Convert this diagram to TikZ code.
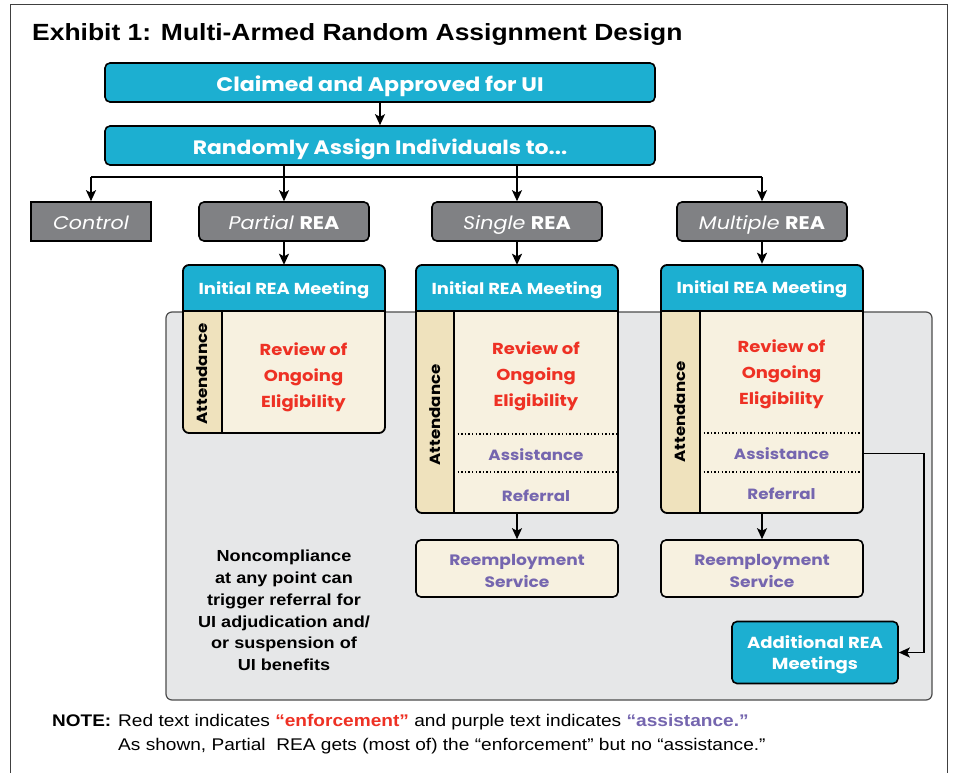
\documentclass[tikz,border=0pt]{standalone}
\usepackage{fontspec}
\setmainfont{Liberation Sans}[FakeStretch=1.13]
\newfontfamily\gf{Poppins}[FakeStretch=1.13]
\usetikzlibrary{arrows.meta}
\definecolor{cyanA}{HTML}{1CAFD1}
\definecolor{grayB}{HTML}{808184}
\definecolor{creamA}{HTML}{F7F1E0}
\definecolor{attnA}{HTML}{EFE2BD}
\definecolor{redA}{HTML}{EE3124}
\definecolor{purpA}{HTML}{7566AF}
\definecolor{panelA}{HTML}{E6E7E8}
\begin{document}
\begin{tikzpicture}[x=1pt,y=-1pt,
  cbox/.style={draw=black, line width=1.6pt, fill=cyanA, rounded corners=5pt, text=white, inner sep=0pt, align=center},
  gbox/.style={draw=black, line width=1.6pt, fill=grayB, text=white, inner sep=0pt, text height=15.8pt, text depth=0pt, font=\gf\fontsize{18.3}{22}\selectfont},
  rbox/.style={draw=black, line width=1.6pt, fill=creamA, rounded corners=5pt, text=purpA, inner sep=0pt, align=center, text height=37.5pt, text depth=0pt, font=\gf\bfseries\fontsize{15.1}{22}\selectfont},
  conn/.style={line width=1.7pt},
  arr/.style={line width=1.7pt, -{Stealth[length=11pt,width=10pt,inset=2.5pt]}},
  hdr/.style={inner sep=0pt, text=white, text height=13.1pt, text depth=0pt, font=\gf\bfseries\fontsize{15.9}{18}\selectfont},
  ghost/.style={inner sep=0pt},
  enf/.style={text=redA, align=center, font=\gf\bfseries\fontsize{15.9}{26}\selectfont},
  asst/.style={text=purpA, inner sep=0pt, font=\gf\bfseries\fontsize{14.8}{18}\selectfont},
  attn/.style={rotate=90, text=black, font=\gf\bfseries\fontsize{14.7}{18}\selectfont},
  dotl/.style={line width=1.4pt, dash pattern=on 1.4pt off 2.2pt},
  outl/.style={draw=black, line width=1.8pt, rounded corners=6pt}
]
\useasboundingbox (0,0) rectangle (954,773);
\fill[white] (0,0) rectangle (954,773);
% outer frame
\draw[line width=1pt, black!75] (10,790) -- (10,5) -- (947,5) -- (947,790);

% title
\node[anchor=base west, inner sep=0pt, font=\bfseries\fontsize{23.4}{28}\selectfont] (title) at (32,40.5) {Exhibit 1: Multi-Armed Random Assignment Design};

% top boxes
\node[cbox, minimum width=550pt, minimum height=39pt, text height=17.7pt, text depth=0pt, font=\gf\bfseries\fontsize{19.6}{22}\selectfont] (claim) at (380,82.5) {Claimed and Approved for UI};
\node[cbox, minimum width=550pt, minimum height=39pt, text height=17.7pt, text depth=0pt, font=\gf\bfseries\fontsize{19.4}{22}\selectfont] (rand) at (380,145.5) {Randomly Assign Individuals to...};
\draw[arr] (claim.south) -- (rand.north);

% arm boxes
\node[gbox, minimum width=120pt, minimum height=39pt] (ctrl) at (91,221.5) {\itshape Control};
\node[gbox, rounded corners=5pt, minimum width=170pt, minimum height=39pt] (pR) at (284,221.5) {\textit{Partial} \textbf{REA}};
\node[gbox, rounded corners=5pt, minimum width=170pt, minimum height=39pt] (sR) at (517,221.5) {\textit{Single} \textbf{REA}};
\node[gbox, rounded corners=5pt, minimum width=170pt, minimum height=39pt] (mR) at (762,221.5) {\textit{Multiple} \textbf{REA}};

\coordinate (br) at (0,177);
\draw[conn] (ctrl.north |- br) -- (mR.north |- br);
\draw[arr] (rand.south -| pR) -- (pR.north);
\draw[arr] (rand.south -| sR) -- (sR.north);
\draw[arr] (ctrl.north |- br) -- (ctrl.north);
\draw[arr] (mR.north |- br) -- (mR.north);

% panel
\draw[fill=panelA, draw=black!70, line width=1.2pt, rounded corners=6pt] (166,312) rectangle (932,700);

% ---------- Partial meeting box ----------
\begin{scope}
\clip[rounded corners=6pt] (183,265) rectangle (385,433);
\fill[creamA] (183,265) rectangle (385,433);
\fill[cyanA] (183,265) rectangle (385,311);
\fill[attnA] (183,311) rectangle (222,433);
\end{scope}
\draw[line width=1.4pt] (183,311) -- (385,311);
\draw[line width=1.2pt] (222,311) -- (222,433);
\draw[outl] (183,265) rectangle (385,433);
\node[ghost, minimum width=202pt, minimum height=168pt] (mP) at (284,349) {};
\node[hdr, minimum width=202pt, minimum height=46pt] (hP) at (284,288) {Initial REA Meeting};
\node[attn] (atP) at (202.5,374) {Attendance};
\node[enf] (rP) at (303.5,377.5) {Review of\\Ongoing\\Eligibility};
\draw[arr] (pR.south) -- (hP.north);

% ---------- Single meeting box ----------
\begin{scope}
\clip[rounded corners=6pt] (416,265) rectangle (618,513);
\fill[creamA] (416,265) rectangle (618,513);
\fill[cyanA] (416,265) rectangle (618,311);
\fill[attnA] (416,311) rectangle (454,513);
\end{scope}
\draw[line width=1.4pt] (416,311) -- (618,311);
\draw[line width=1.2pt] (454,311) -- (454,513);
\draw[dotl] (454,434) -- (618,434);
\draw[dotl] (454,472) -- (618,472);
\draw[outl] (416,265) rectangle (618,513);
\node[ghost, minimum width=202pt, minimum height=248pt] (mS) at (517,389) {};
\node[hdr, minimum width=202pt, minimum height=46pt] (hS) at (517,288) {Initial REA Meeting};
\node[attn] (atS) at (435,415) {Attendance};
\node[enf] (rS) at (536,376) {Review of\\Ongoing\\Eligibility};
\node[asst, minimum width=164pt, minimum height=38pt] (aS) at (536,455) {Assistance};
\node[asst, minimum width=164pt, minimum height=41pt] (fS) at (536,495.5) {Referral};
\draw[arr] (sR.south) -- (hS.north);

% ---------- Multiple meeting box ----------
\begin{scope}
\clip[rounded corners=6pt] (661,265) rectangle (863,513);
\fill[creamA] (661,265) rectangle (863,513);
\fill[cyanA] (661,265) rectangle (863,311);
\fill[attnA] (661,311) rectangle (700,513);
\end{scope}
\draw[line width=1.4pt] (661,311) -- (863,311);
\draw[line width=1.2pt] (700,311) -- (700,513);
\draw[dotl] (700,433) -- (863,433);
\draw[dotl] (700,472) -- (863,472);
\draw[outl] (661,265) rectangle (863,513);
\node[ghost, minimum width=202pt, minimum height=248pt] (mM) at (762,389) {};
\node[hdr, minimum width=202pt, minimum height=46pt] (hM) at (762,287) {Initial REA Meeting};
\node[attn] (atM) at (680.5,412) {Attendance};
\node[enf] (rM) at (781.5,374.5) {Review of\\Ongoing\\Eligibility};
\node[asst, minimum width=163pt, minimum height=39pt] (aM) at (781.5,453.5) {Assistance};
\node[asst, minimum width=163pt, minimum height=41pt] (fM) at (781.5,493.5) {Referral};
\draw[arr] (mR.south) -- (hM.north);

% reemployment
\node[rbox, minimum width=202pt, minimum height=57pt] (sRe) at (517,568.5) {Reemployment\\Service};
\node[rbox, minimum width=202pt, minimum height=57pt] (mRe) at (762,568.5) {Reemployment\\Service};
\draw[arr] (mS.south) -- (sRe.north);
\draw[arr] (mM.south) -- (mRe.north);

% additional
\node[cbox, minimum width=166pt, minimum height=62pt, text height=33.7pt, text depth=0pt, font=\gf\bfseries\fontsize{16}{21}\selectfont] (add) at (815,652.5) {Additional REA\\Meetings};
\coordinate (turn) at (924,0);
\draw[arr] (aM.east) -- (aM.east -| turn) |- (add.east);

% noncompliance
\node[align=center, font=\bfseries\fontsize{16}{21.8}\selectfont] (nc) at (284,610.5) {Noncompliance\\at any point can\\trigger referral for\\UI adjudication and/\\or suspension of\\UI benefits};

% note
\node[anchor=base west, inner sep=0pt, font=\bfseries\fontsize{16.8}{20}\selectfont] (noteh) at (52,726) {NOTE:};
\node[anchor=base west, inner sep=0pt, font=\fontsize{16.9}{20}\selectfont] (n1) at (118,726) {Red text indicates \textcolor{redA}{\textbf{“enforcement”}} and purple text indicates \textcolor{purpA}{\textbf{“assistance.”}}};
\node[anchor=base west, inner sep=0pt, font=\fontsize{16.9}{20}\selectfont] (n2) at (118,750) {As shown, Partial\ \ REA gets (most of) the “enforcement” but no “assistance.”};
\end{tikzpicture}
\end{document}
